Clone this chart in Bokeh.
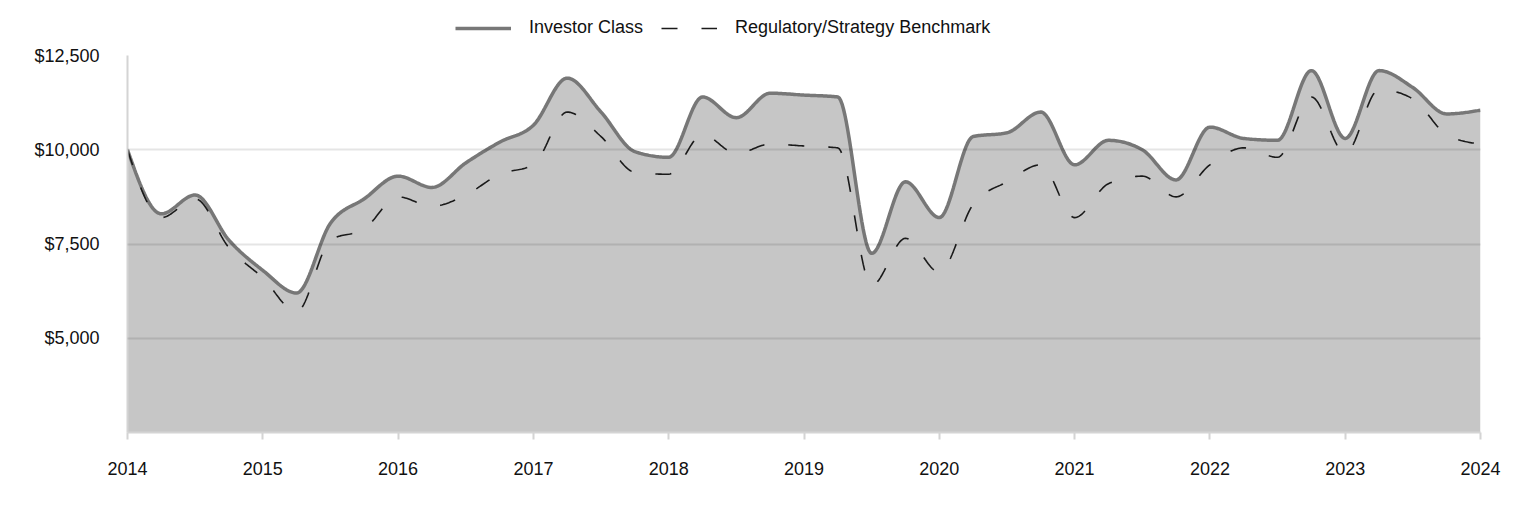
import numpy as np
from bokeh.plotting import figure
from bokeh.layouts import column
from bokeh.models import (Legend, LegendItem, FixedTicker, NumeralTickFormatter, Range1d)
from bokeh.embed import file_html
from bokeh.resources import INLINE

# ---- data (quarterly, growth of $10,000) ----
quarters = [2014 + i / 4 for i in range(41)]
investor_class = [10000, 8300, 8800, 7600, 6800, 6200, 8050, 8700,
                  9300, 9000, 9650, 10200, 10650, 11900, 11000, 9950,
                  9800, 11400, 10850, 11500, 11450, 11400, 7250, 9150,
                  8200, 10350, 10450, 11000, 9600, 10250, 10000, 9200,
                  10600, 10300, 10250, 12100, 10300, 12100, 11650, 10950,
                  11050]
benchmark = [10000, 8200, 8700, 7400, 6600, 5700, 7600, 7900,
             8750, 8500, 8800, 9350, 9600, 11000, 10350, 9400,
             9350, 10400, 9900, 10150, 10100, 10050, 6400, 7650,
             6750, 8550, 9150, 9600, 8200, 9100, 9300, 8750,
             9600, 10050, 9800, 11400, 9900, 11600, 11350, 10400,
             10150]
year_ticks = list(range(2014, 2025))
value_ticks = [5000, 7500, 10000, 12500]
series_names = ["Investor Class", "Regulatory/Strategy Benchmark"]

INV_COLOR, INV_WIDTH = "#777777", 3.5
BM_COLOR, BM_WIDTH, BM_DASH = "#1a1a1a", 1.6, "16 24"


def smooth(xs, ys, n=24):
    """Monotone cubic (d3 monotoneX style) rendering through the data points."""
    xs = np.asarray(xs, float)
    ys = np.asarray(ys, float)
    N = len(xs)
    h = np.diff(xs)
    s = np.diff(ys) / h
    m = np.zeros(N)
    for i in range(1, N - 1):
        s0, s1 = s[i - 1], s[i]
        pp = (s0 * h[i] + s1 * h[i - 1]) / (h[i - 1] + h[i])
        m[i] = (np.sign(s0) + np.sign(s1)) * min(abs(s0), abs(s1), 0.5 * abs(pp))
    m[0] = (3 * s[0] - m[1]) / 2
    m[-1] = (3 * s[-1] - m[-2]) / 2
    ox, oy = [], []
    for i in range(N - 1):
        for t in np.linspace(0, 1, n, endpoint=False):
            h00 = 2 * t**3 - 3 * t**2 + 1
            h10 = t**3 - 2 * t**2 + t
            h01 = -2 * t**3 + 3 * t**2
            h11 = t**3 - t**2
            ox.append(xs[i] + t * h[i])
            oy.append(h00 * ys[i] + h10 * h[i] * m[i] + h01 * ys[i + 1] + h11 * h[i] * m[i + 1])
    ox.append(xs[-1]); oy.append(ys[-1])
    return ox, oy


FONT = "Liberation Sans"

# ---- legend strip on top (frame aligned with the main chart's frame) ----
leg = figure(width=1524, height=40, output_backend="svg", toolbar_location=None,
             x_range=Range1d(0, 1), y_range=Range1d(0, 1),
             min_border=0, outline_line_color=None)
leg.axis.visible = False
leg.grid.visible = False
# single off-screen point: nothing drawn, only used for the legend samples
l_inv = leg.line(x=[-10], y=[-10], line_color=INV_COLOR, line_width=INV_WIDTH)
l_bm = leg.line(x=[-10], y=[-10], line_color=BM_COLOR, line_width=BM_WIDTH, line_dash=BM_DASH)
legend = Legend(items=[LegendItem(label=series_names[0], renderers=[l_inv]),
                       LegendItem(label=series_names[1], renderers=[l_bm])],
                orientation="horizontal", location=(328, 2),
                label_text_font=FONT, label_text_font_size="18px",
                label_text_color="#111111", glyph_width=56, glyph_height=18,
                label_standoff=18, spacing=18, padding=0, margin=0,
                border_line_color=None, background_fill_alpha=0)
leg.add_layout(legend, "center")

# ---- main chart ----
p = figure(width=1524, height=476, output_backend="svg", toolbar_location=None,
           x_range=Range1d(2014, 2024), y_range=Range1d(2500, 12500),
           min_border_left=127, min_border_right=44, min_border_top=15,
           min_border_bottom=84, outline_line_color=None)

sx, sy = smooth(quarters, investor_class)
bx, by = smooth(quarters, benchmark)

p.varea(x=sx, y1=2500, y2=sy, fill_color="#c6c6c6")
p.line(sx, sy, line_color=INV_COLOR, line_width=INV_WIDTH)
p.line(bx, by, line_color=BM_COLOR, line_width=BM_WIDTH, line_dash=BM_DASH)

p.xaxis.ticker = FixedTicker(ticks=year_ticks)
p.yaxis.ticker = FixedTicker(ticks=value_ticks)
p.yaxis.formatter = NumeralTickFormatter(format="$0,0")
for ax in (p.xaxis[0], p.yaxis[0]):
    ax.axis_line_color = "#d4d4d4"
    ax.axis_line_width = 2
    ax.major_label_text_font = FONT
    ax.major_label_text_font_size = "18px"
    ax.major_label_text_color = "#111111"
    ax.minor_tick_line_color = None
p.xaxis.major_tick_line_color = "#d4d4d4"
p.xaxis.major_tick_line_width = 2
p.xaxis.major_tick_out = 7
p.xaxis.major_tick_in = 0
p.xaxis.major_label_standoff = 22
p.yaxis.major_tick_line_color = None
p.yaxis.major_label_standoff = 22

p.xgrid.grid_line_color = None
p.ygrid.grid_line_color = "black"
p.ygrid.grid_line_alpha = 0.1
p.ygrid.grid_line_width = 2
p.ygrid.level = "overlay"

open("out.html", "w").write(file_html(column(leg, p, spacing=0), INLINE))
